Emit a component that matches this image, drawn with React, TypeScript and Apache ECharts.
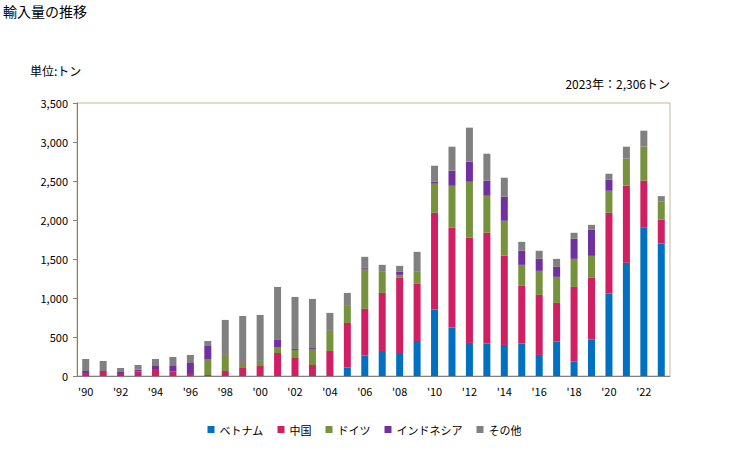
import React, { useEffect, useRef } from "react";
import * as echarts from "echarts";

const years = [
  "1990","1991","1992","1993","1994","1995","1996","1997","1998","1999",
  "2000","2001","2002","2003","2004","2005","2006","2007","2008","2009",
  "2010","2011","2012","2013","2014","2015","2016","2017","2018","2019",
  "2020","2021","2022","2023",
];
const vietnam = [0,0,13,0,0,0,0,0,0,0, 0,0,0,0,0,107,261,321,295,449, 852,620,424,415,398,415,270,441,184,466, 1057,1451,1900,1699];
const china = [38,64,13,56,90,56,26,13,64,103, 128,295,231,141,321,573,599,744,963,732, 1240,1280,1348,1421,1147,740,770,496,958,792, 1035,988,603,304];
const germany = [0,0,0,0,0,0,0,205,206,64, 65,77,103,206,257,219,514,270,39,163, 373,539,718,475,445,270,308,334,360,282, 283,347,437,231];
const indonesia = [26,0,25,25,38,72,141,167,0,0, 0,90,13,12,0,0,12,0,38,0, 25,193,257,192,308,180,154,128,257,334, 141,0,0,0];
const others = [154,129,52,60,90,116,103,64,449,603, 590,680,667,629,231,166,142,90,77,248, 206,308,437,347,244,115,103,103,77,64, 77,154,205,72];

const seriesNames = ["ベトナム", "中国", "ドイツ", "インドネシア", "その他"];
const seriesColors = ["#0070c0", "#d01f63", "#76923c", "#7030a0", "#808080"];
const seriesData = [vietnam, china, germany, indonesia, others];

const FONT = "'Noto Sans CJK JP', sans-serif";

export default function App() {
  const ref = useRef<HTMLDivElement>(null);
  useEffect(() => {
    if (!ref.current) return;
    const chart = echarts.init(ref.current, undefined, { renderer: "svg" });
    chart.setOption({
      animation: false,
      textStyle: { fontFamily: FONT },
      title: [
        { text: "輸入量の推移", left: 3, top: 4, padding: 0, textStyle: { fontSize: 14, fontWeight: "normal", color: "#000", fontFamily: FONT } },
        { text: "単位:トン", left: 30, top: 64, padding: 0, textStyle: { fontSize: 12, fontWeight: "normal", color: "#000", fontFamily: FONT } },
        { text: "2023年：2,306トン", right: 59, top: 77, padding: 0, textStyle: { fontSize: 12, fontWeight: "normal", color: "#000", fontFamily: FONT } },
      ],
      legend: {
        bottom: 10,
        left: "center",
        itemWidth: 7,
        itemHeight: 7,
        itemGap: 14,
        icon: "rect",
        textStyle: { fontSize: 11, color: "#000", fontFamily: FONT },
        data: seriesNames,
      },
      grid: {
        left: 77,
        right: 59,
        top: 103,
        bottom: 74,
        show: true,
        borderColor: "#c4bc96",
        borderWidth: 1,
        backgroundColor: "transparent",
      },
      xAxis: {
        type: "category",
        data: years,
        axisLine: { lineStyle: { color: "#808080", width: 1 } },
        axisTick: { show: false },
        axisLabel: {
          interval: 1,
          fontSize: 11,
          color: "#000",
          margin: 9,
          formatter: (v: string) => "'" + v.slice(2),
        },
      },
      yAxis: {
        type: "value",
        min: 0,
        max: 3500,
        interval: 500,
        axisLine: { show: true, lineStyle: { color: "#808080", width: 1 } },
        axisTick: { show: true, length: 4, lineStyle: { color: "#808080" } },
        splitLine: { show: false },
        axisLabel: {
          fontSize: 11,
          color: "#000",
          margin: 9,
          formatter: (v: number) => v.toLocaleString("en-US"),
        },
      },
      series: seriesNames.map((name, i) => ({
        name,
        type: "bar",
        stack: "total",
        barWidth: 7,
        itemStyle: { color: seriesColors[i] },
        data: seriesData[i],
      })),
    });
    return () => chart.dispose();
  }, []);
  return <div ref={ref} style={{ position: "absolute", left: 0, top: 0, width: 729, height: 450 }} />;
}
